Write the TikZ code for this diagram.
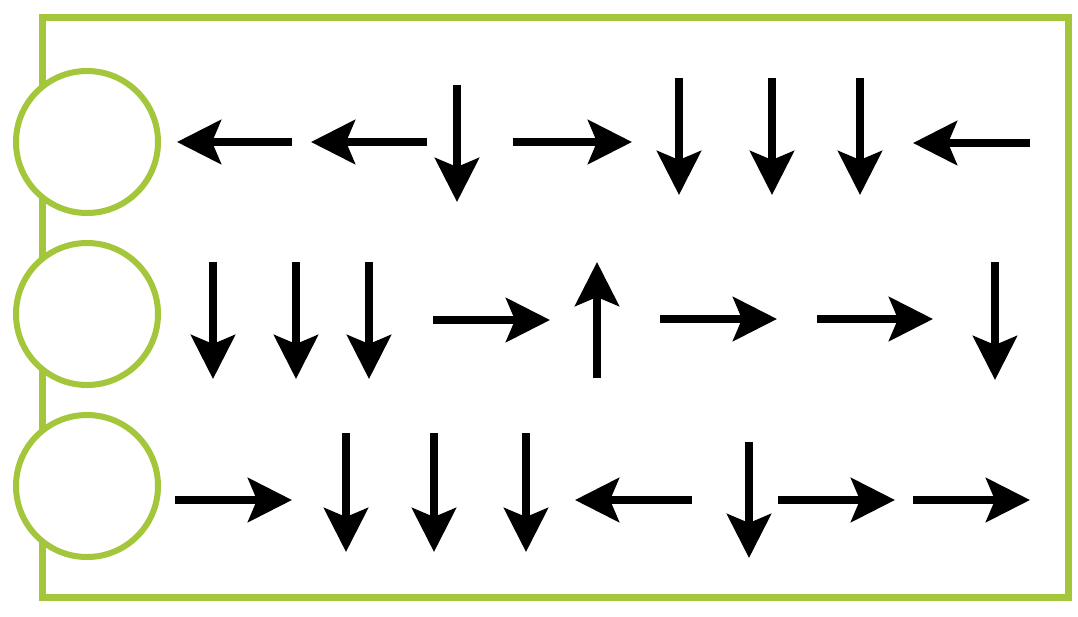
\documentclass[tikz,border=0pt]{standalone}
\usetikzlibrary{arrows.meta}
\definecolor{lime}{RGB}{163,198,58}
\tikzset{
  frame/.style={draw=lime, line width=7pt},
  ring/.style={circle, draw=lime, line width=6pt, fill=white, minimum size=142pt, inner sep=0pt},
  arw/.style={line width=7.5pt, black, -{Stealth[length=44pt, width=44pt, inset=9pt]}}
}
\begin{document}
\begin{tikzpicture}[x=1pt, y=-1pt]
\useasboundingbox (0,0) rectangle (1078,616);
\fill[white] (0,0) rectangle (1078,616);
\coordinate (f1) at (42,17);
\coordinate (f2) at (1068,597);
\draw[frame] (f1) rectangle (f2);
\node[ring] (c1) at (87,142) {};
\node[ring] (c2) at (87,314) {};
\node[ring] (c3) at (87,486) {};
% row 1
\coordinate (a1s) at (292,142); \coordinate (a1e) at (177,142);
\coordinate (a2s) at (427,142); \coordinate (a2e) at (311,142);
\coordinate (a3s) at (457,85);  \coordinate (a3e) at (457,202);
\coordinate (a4s) at (513,142); \coordinate (a4e) at (632,142);
\coordinate (a5s) at (679,78);  \coordinate (a5e) at (679,195);
\coordinate (a6s) at (772,78);  \coordinate (a6e) at (772,195);
\coordinate (a7s) at (860,78);  \coordinate (a7e) at (860,195);
\coordinate (a8s) at (1030,143); \coordinate (a8e) at (913,143);
% row 2
\coordinate (b1s) at (213,262); \coordinate (b1e) at (213,379);
\coordinate (b2s) at (296,262); \coordinate (b2e) at (296,379);
\coordinate (b3s) at (369,262); \coordinate (b3e) at (369,379);
\coordinate (b4s) at (433,320); \coordinate (b4e) at (550,320);
\coordinate (b5s) at (597,378); \coordinate (b5e) at (597,262);
\coordinate (b6s) at (660,319); \coordinate (b6e) at (777,319);
\coordinate (b7s) at (817,319); \coordinate (b7e) at (933,319);
\coordinate (b8s) at (995,262); \coordinate (b8e) at (995,380);
% row 3
\coordinate (r1s) at (175,500); \coordinate (r1e) at (292,500);
\coordinate (r2s) at (346,433); \coordinate (r2e) at (346,552);
\coordinate (r3s) at (434,433); \coordinate (r3e) at (434,552);
\coordinate (r4s) at (526,433); \coordinate (r4e) at (526,552);
\coordinate (r5s) at (692,500); \coordinate (r5e) at (575,500);
\coordinate (r6s) at (749,442); \coordinate (r6e) at (749,558);
\coordinate (r7s) at (778,500); \coordinate (r7e) at (895,500);
\coordinate (r8s) at (913,500); \coordinate (r8e) at (1030,500);
\foreach \n in {a1,a2,a3,a4,a5,a6,a7,a8,b1,b2,b3,b4,b5,b6,b7,b8,r1,r2,r3,r4,r5,r6,r7,r8}
  \draw[arw] (\n s) -- (\n e);
\end{tikzpicture}
\end{document}
